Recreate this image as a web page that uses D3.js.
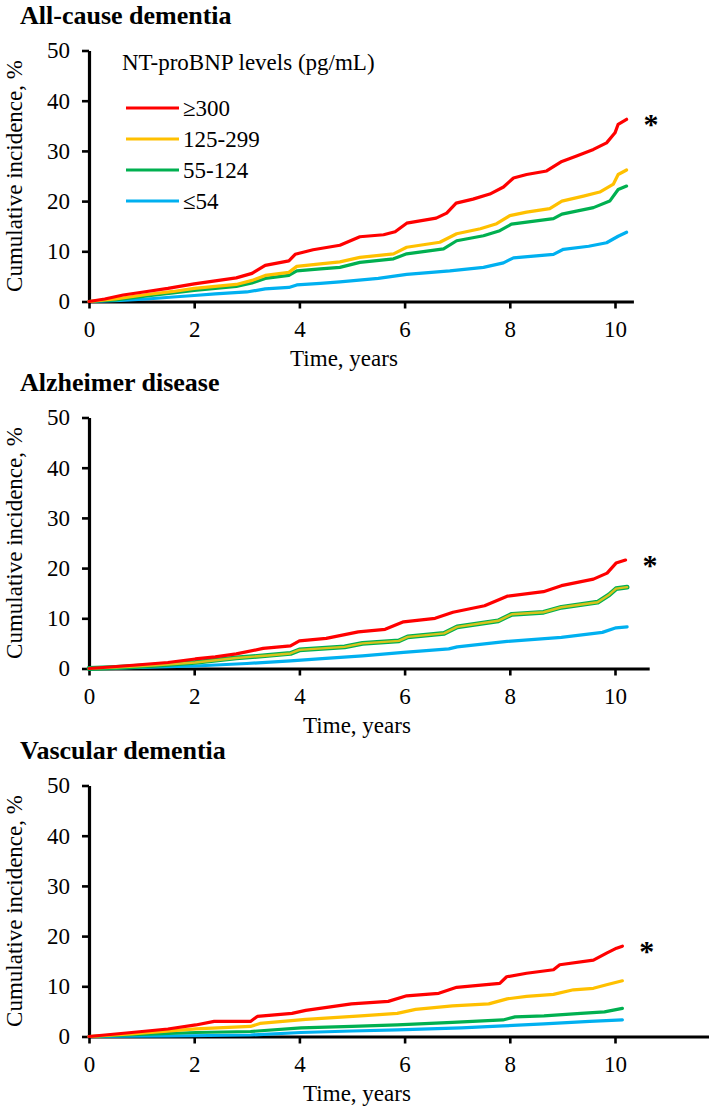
<!DOCTYPE html>
<meta charset="utf-8">
<style>
  body { margin: 0; background: #fff; }
  text { font-family: "Liberation Serif", "Times New Roman", serif; fill: #000; }
</style>
<svg width="709" height="1119"></svg>
<script src="https://d3js.org/d3.v7.min.js"></script>
<script>

// ---- data: [years, cumulative incidence %] ----
var levels = ["\u2265300", "125-299", "55-124", "\u226454"];
var legendTitle = "NT-proBNP levels (pg/mL)";
var panelTitles = ["All-cause dementia", "Alzheimer disease", "Vascular dementia"];
var xTicks = [0, 2, 4, 6, 8, 10];
var yTicks = [0, 10, 20, 30, 40, 50];

var allCause300 = [[0,0],[0.3,0.5],[0.65,1.3],[1.1,2.0],[1.5,2.6],[2.0,3.5],[2.4,4.1],[2.8,4.7],[3.1,5.6],[3.35,7.2],[3.8,8.1],[3.92,9.4],[4.26,10.3],[4.77,11.2],[5.15,12.9],[5.6,13.3],[5.82,13.9],[6.04,15.6],[6.6,16.6],[6.8,17.6],[6.98,19.6],[7.3,20.4],[7.62,21.4],[7.88,22.8],[8.07,24.6],[8.32,25.3],[8.7,26.0],[8.99,27.9],[9.27,29.0],[9.59,30.3],[9.84,31.6],[10.0,33.6],[10.06,35.3],[10.22,36.3]];
var allCause125 = [[0,0],[0.5,0.5],[1.1,1.4],[1.6,2.0],[2.0,2.6],[2.4,3.0],[2.8,3.4],[3.1,4.2],[3.35,5.2],[3.8,5.8],[3.95,7.0],[4.4,7.5],[4.77,7.9],[5.15,8.8],[5.79,9.5],[6.04,10.8],[6.67,11.8],[6.99,13.5],[7.44,14.5],[7.75,15.5],[8.0,17.1],[8.32,17.8],[8.76,18.5],[8.99,20.0],[9.4,21.0],[9.71,21.8],[9.97,23.4],[10.06,25.3],[10.22,26.2]];
var allCause55 = [[0,0],[0.5,0.3],[1.1,1.1],[1.6,1.7],[2.0,2.2],[2.4,2.6],[2.8,3.0],[3.1,3.7],[3.35,4.6],[3.8,5.2],[3.95,6.1],[4.4,6.5],[4.77,6.8],[5.15,7.8],[5.79,8.5],[6.04,9.5],[6.74,10.5],[6.99,12.1],[7.5,13.1],[7.81,14.1],[8.03,15.4],[8.83,16.5],[8.99,17.4],[9.59,18.7],[9.9,20.0],[10.06,22.3],[10.22,23.0]];
var allCause54 = [[0,0],[0.6,0.2],[1.1,0.5],[1.6,0.9],[2.0,1.2],[2.4,1.5],[3.0,1.9],[3.35,2.5],[3.8,2.8],[3.95,3.3],[4.4,3.6],[4.77,3.9],[5.5,4.6],[6.04,5.4],[6.86,6.1],[7.5,6.8],[7.88,7.7],[8.07,8.7],[8.83,9.4],[9.02,10.4],[9.5,11.0],[9.84,11.7],[10.06,13.0],[10.22,13.8]];

var alz300 = [[0,0],[0.4,0.3],[0.9,0.7],[1.5,1.2],[2.02,1.9],[2.4,2.3],[2.8,2.9],[3.31,4.0],[3.83,4.5],[4.0,5.5],[4.51,6.0],[5.12,7.3],[5.63,7.8],[5.98,9.3],[6.58,10.0],[6.92,11.2],[7.52,12.5],[7.95,14.4],[8.64,15.3],[8.98,16.5],[9.59,17.8],[9.85,19.0],[10.02,21.0],[10.2,21.6]];
var alz125 = [[0,0],[0.5,0.2],[1.2,0.6],[2.02,1.2],[2.8,2.1],[3.4,2.6],[3.83,3.0],[4.0,3.7],[4.86,4.3],[5.2,5.0],[5.89,5.5],[6.06,6.3],[6.75,7.0],[7.0,8.3],[7.78,9.5],[8.04,10.8],[8.64,11.2],[8.98,12.2],[9.67,13.2],[9.89,14.7],[10.02,15.9],[10.23,16.2]];
var alz55 = [[0,0],[0.5,0.2],[1.2,0.6],[2.02,1.2],[2.8,2.1],[3.4,2.6],[3.83,3.0],[4.0,3.7],[4.86,4.3],[5.2,5.0],[5.89,5.5],[6.06,6.3],[6.75,7.0],[7.0,8.3],[7.78,9.5],[8.04,10.8],[8.64,11.2],[8.98,12.2],[9.67,13.2],[9.89,14.7],[10.02,15.9],[10.23,16.2]];
var alz54 = [[0,0],[1.0,0.2],[2.02,0.5],[3.0,1.0],[3.83,1.5],[4.5,2.0],[5.2,2.5],[5.98,3.2],[6.84,3.9],[7.0,4.3],[7.95,5.4],[8.98,6.2],[9.76,7.2],[10.02,8.1],[10.23,8.3]];

var vasc300 = [[0,0],[0.81,0.8],[1.5,1.5],[2.03,2.3],[2.38,3.0],[3.07,3.0],[3.2,4.0],[3.86,4.6],[4.12,5.2],[4.99,6.5],[5.69,7.0],[6.04,8.1],[6.65,8.6],[6.99,9.8],[7.81,10.6],[7.94,11.9],[8.32,12.6],[8.83,13.3],[8.95,14.3],[9.59,15.2],[9.84,16.6],[10.03,17.6],[10.14,18.0]];
var vasc125 = [[0,0],[0.81,0.5],[2.03,1.5],[3.07,2.0],[3.25,2.6],[4.12,3.4],[5.17,4.1],[5.86,4.6],[6.21,5.4],[6.91,6.1],[7.6,6.5],[7.95,7.5],[8.32,8.0],[8.83,8.4],[9.21,9.3],[9.59,9.6],[9.84,10.3],[10.14,11.1]];
var vasc55 = [[0,0],[1.0,0.4],[2.03,0.8],[3.07,1.0],[4.03,1.7],[5.0,2.0],[5.86,2.3],[6.91,2.8],[7.87,3.3],[8.1,3.9],[8.65,4.1],[9.35,4.6],[9.8,4.9],[10.14,5.6]];
var vasc54 = [[0,0],[1.5,0.1],[3.07,0.3],[4.03,0.8],[5.0,1.1],[5.86,1.3],[7.08,1.7],[7.87,2.1],[8.65,2.5],[9.52,3.0],[10.14,3.3]];

// ---- styling / layout ----
var colors = ["#ff0000", "#ffc000", "#00b050", "#00b0f0"];
var svg = d3.select("svg");
var left = 89, yearPx = 52.6, panelH = 251;

var panels = [
  { title: panelTitles[0], bottom: 301.5, xMax: 10.35, lines: [allCause300, allCause125, allCause55, allCause54], legend: true, xlabel: 344 },
  { title: panelTitles[1], bottom: 668.5, xMax: 10.65, lines: [alz300, alz125, alz55, alz54], overlap: true, xlabel: 357 },
  { title: panelTitles[2], bottom: 1036.5, xMax: 12, lines: [vasc300, vasc125, vasc55, vasc54], xlabel: 357 }
];

panels.forEach(function(p) {
  var x = d3.scaleLinear().domain([0, p.xMax]).range([left, left + p.xMax * yearPx]);
  var y = d3.scaleLinear().domain([0, 50]).range([p.bottom, p.bottom - panelH]);
  var g = svg.append("g");

  g.append("text")
    .attr("x", 20).attr("y", p.bottom - panelH - 27)
    .attr("font-size", 26).attr("font-weight", "bold")
    .text(p.title);

  // axes
  var ya = g.append("g").attr("transform", "translate(" + left + ",0)")
    .call(d3.axisLeft(y).tickValues(yTicks).tickSize(7).tickSizeOuter(0).tickPadding(12));
  var xa = g.append("g").attr("transform", "translate(0," + p.bottom + ")")
    .call(d3.axisBottom(x).tickValues(xTicks).tickSize(7).tickSizeOuter(0).tickPadding(12));
  [ya, xa].forEach(function(a) {
    a.select(".domain").attr("stroke", "#000").attr("stroke-width", 3.2);
    a.selectAll(".tick line").attr("stroke", "#000").attr("stroke-width", 2.6);
    a.selectAll(".tick text").attr("font-size", 23)
      .style("font-family", "'Liberation Serif', 'Times New Roman', serif");
  });

  g.append("text")
    .attr("transform", "translate(22," + (p.bottom - panelH / 2) + ") rotate(-90)")
    .attr("text-anchor", "middle").attr("font-size", 23)
    .text("Cumulative incidence, %");

  g.append("text")
    .attr("x", p.xlabel).attr("y", p.bottom + 64)
    .attr("text-anchor", "middle").attr("font-size", 23)
    .text("Time, years");

  // curves, drawn low group first so the red one ends on top
  var line = d3.line().x(function(d) { return x(d[0]); }).y(function(d) { return y(d[1]); });
  [3, 2, 1, 0].forEach(function(i) {
    var w = 3.2, c = colors[i];
    if (p.overlap && i == 2) w = 4.8;
    if (p.overlap && i == 1) { w = 2.4; c = "#d9c21c"; }
    g.append("path")
      .datum(p.lines[i])
      .attr("fill", "none")
      .attr("stroke", c)
      .attr("stroke-width", w)
      .attr("stroke-linejoin", "round")
      .attr("stroke-linecap", "round")
      .attr("d", line);
  });

  var last = p.lines[0][p.lines[0].length - 1];
  g.append("text")
    .attr("x", x(last[0]) + 17).attr("y", y(last[1]) + 15)
    .attr("font-size", 30).attr("font-weight", "bold")
    .text("*");

  if (p.legend) {
    g.append("text")
      .attr("x", 122).attr("y", 70).attr("font-size", 23)
      .text(legendTitle);
    var items = g.selectAll(".leg").data(levels).enter().append("g")
      .attr("transform", function(d, i) { return "translate(126," + (108 + i * 31) + ")"; });
    items.append("line")
      .attr("x1", 0).attr("x2", 53)
      .attr("stroke", function(d, i) { return colors[i]; })
      .attr("stroke-width", 3.2);
    items.append("text")
      .attr("x", 57).attr("dy", "0.35em").attr("font-size", 23)
      .text(function(d) { return d; });
  }
});
</script>
